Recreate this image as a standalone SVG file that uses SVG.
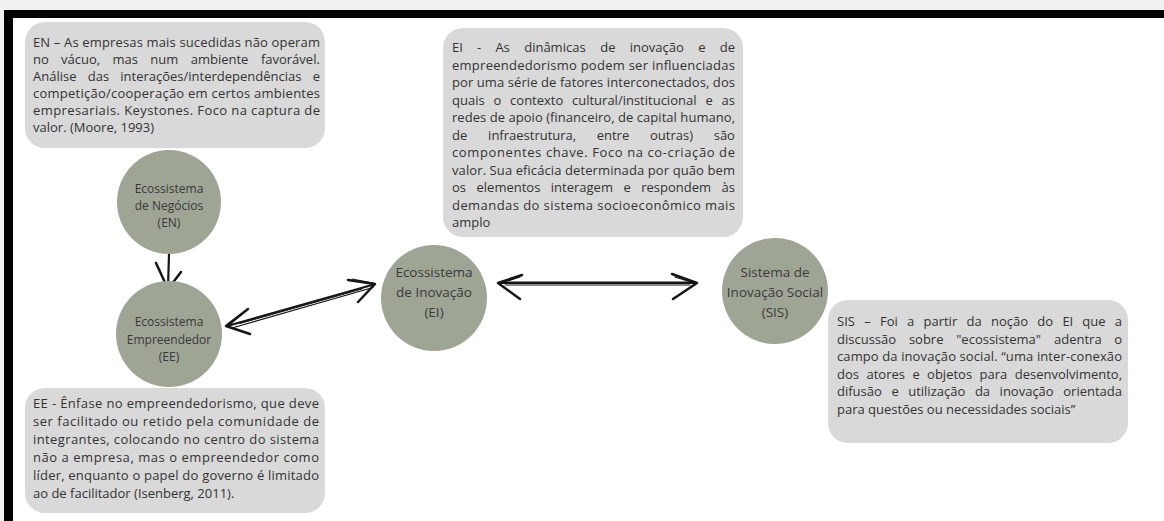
<svg xmlns="http://www.w3.org/2000/svg" width="1164" height="521" viewBox="0 0 1164 521">
<style>
.box{fill:#d9d9d9}
.node{fill:#9ea595}
.t{font-family:'Open Sans','Liberation Sans',sans-serif;font-size:13px;fill:#333}
.c{font-family:'Open Sans','Liberation Sans',sans-serif;font-size:12px;fill:#3a3a3a;text-anchor:middle}
.cb{font-size:13.5px}
.arr{stroke:#151515;fill:none;stroke-linecap:round;stroke-linejoin:round}
</style>
<rect x="0" y="0" width="1164" height="521" fill="#f1f1f1"/>
<rect x="13" y="18" width="1151" height="503" fill="#ffffff"/>
<rect x="4" y="10" width="1160" height="8" fill="#000"/>
<rect x="4" y="10" width="9" height="511" fill="#000"/>

<g id="connectors">
  <path class="arr" stroke-width="2.2" d="M169,254 L168,288"/>
  <path class="arr" stroke-width="2.5" d="M156,263 L168,289 L181,272"/>
  <path class="arr" stroke-width="2.2" d="M229,325.5 L372,285"/>
  <path class="arr" stroke-width="1.3" d="M232,328 L373,287.5"/>
  <path class="arr" stroke-width="1" d="M240,323.5 L362,289"/>
  <path class="arr" stroke-width="2.5" d="M248,309 L226,326 L250,334"/>
  <path class="arr" stroke-width="1.2" d="M246,311 L229,325"/>
  <path class="arr" stroke-width="2.5" d="M348,280 L375,284 L358,302"/>
  <path class="arr" stroke-width="1.2" d="M352,279 L373,283"/>
  <path class="arr" stroke-width="2.4" d="M500,282.8 L695,282.8"/>
  <path class="arr" stroke-width="1" d="M505,285 L690,285"/>
  <path class="arr" stroke-width="2.5" d="M522,275 L498,283 L520,299"/>
  <path class="arr" stroke-width="1.2" d="M520,277 L501,283"/>
  <path class="arr" stroke-width="2.5" d="M672,274 L697,283 L673,299"/>
  <path class="arr" stroke-width="1.2" d="M675,277 L694,283"/>
</g>

<g id="node-en">
  <circle class="node" cx="169" cy="202" r="52"/>
  <text class="c" x="169" y="193">Ecossistema</text>
  <text class="c" x="169" y="210">de Negócios</text>
  <text class="c" x="169" y="227">(EN)</text>
</g>
<g id="node-ee">
  <circle class="node" cx="169" cy="334" r="53"/>
  <text class="c" x="169" y="326">Ecossistema</text>
  <text class="c" x="169" y="344">Empreendedor</text>
  <text class="c" x="169" y="361">(EE)</text>
</g>
<g id="node-ei">
  <circle class="node" cx="434" cy="298" r="53"/>
  <text class="c cb" x="434" y="277">Ecossistema</text>
  <text class="c cb" x="434" y="297">de Inovação</text>
  <text class="c cb" x="434" y="317">(EI)</text>
</g>
<g id="node-sis">
  <circle class="node" cx="775" cy="291" r="53"/>
  <text class="c cb" x="775" y="277">Sistema de</text>
  <text class="c cb" x="775" y="297">Inovação Social</text>
  <text class="c cb" x="775" y="317">(SIS)</text>
</g>

<g id="note-en">
  <rect class="box" x="25" y="22" width="300" height="126" rx="20"/>
  <text class="t" x="33" y="47" textLength="287" lengthAdjust="spacing">EN – As empresas mais sucedidas não operam</text>
  <text class="t" y="64"><tspan x="33">no</tspan><tspan x="61.1">vácuo,</tspan><tspan x="112.4">mas</tspan><tspan x="150.3">num</tspan><tspan x="190.7">ambiente</tspan><tspan x="260.9">favorável.</tspan></text>
  <text class="t" y="81"><tspan x="33">Análise</tspan><tspan x="87.8">das</tspan><tspan x="120.3">interações/interdependências</tspan><tspan x="312.7">e</tspan></text>
  <text class="t" x="33" y="98" textLength="287" lengthAdjust="spacing">competição/cooperação em certos ambientes</text>
  <text class="t" x="33" y="115" textLength="287" lengthAdjust="spacing">empresariais. Keystones. Foco na captura de</text>
  <text class="t" x="33" y="132">valor. (Moore, 1993)</text>
</g>

<g id="note-ei">
  <rect class="box" x="443" y="28" width="300" height="209" rx="20"/>
  <text class="t" y="52"><tspan x="452">EI</tspan><tspan x="477">-</tspan><tspan x="495.4">As</tspan><tspan x="524.2">dinâmicas</tspan><tspan x="600.2">de</tspan><tspan x="629.7">inovação</tspan><tspan x="698.2">e</tspan><tspan x="719.7">de</tspan></text>
  <text class="t" x="452" y="69.5" textLength="283" lengthAdjust="spacing">empreendedorismo podem ser influenciadas</text>
  <text class="t" x="452" y="87" textLength="283" lengthAdjust="spacing">por uma série de fatores interconectados, dos</text>
  <text class="t" y="104.5"><tspan x="452">quais</tspan><tspan x="493.5">o</tspan><tspan x="510.1">contexto</tspan><tspan x="572">cultural/institucional</tspan><tspan x="705.5">e</tspan><tspan x="721.5">as</tspan></text>
  <text class="t" x="452" y="122" textLength="283" lengthAdjust="spacing">redes de apoio (financeiro, de capital humano,</text>
  <text class="t" y="139.5"><tspan x="452">de</tspan><tspan x="488.1">infraestrutura,</tspan><tspan x="596.7">entre</tspan><tspan x="650">outras)</tspan><tspan x="713.7">são</tspan></text>
  <text class="t" x="452" y="157" textLength="283" lengthAdjust="spacing">componentes chave. Foco na co-criação de</text>
  <text class="t" x="452" y="174.5" textLength="283" lengthAdjust="spacing">valor. Sua eficácia determinada por quão bem</text>
  <text class="t" y="192"><tspan x="452">os</tspan><tspan x="476.5">elementos</tspan><tspan x="550.8">interagem</tspan><tspan x="623.5">e</tspan><tspan x="641.2">respondem</tspan><tspan x="721.5">às</tspan></text>
  <text class="t" x="452" y="209.5" textLength="283" lengthAdjust="spacing">demandas do sistema socioeconômico mais</text>
  <text class="t" x="452" y="227">amplo</text>
</g>

<g id="note-sis">
  <rect class="box" x="828" y="300" width="300" height="143" rx="20"/>
  <text class="t" y="326"><tspan x="837">SIS</tspan><tspan x="864.2">–</tspan><tspan x="880">Foi</tspan><tspan x="907">a</tspan><tspan x="923.5">partir</tspan><tspan x="966.5">da</tspan><tspan x="991">noção</tspan><tspan x="1037.3">do</tspan><tspan x="1062.4">EI</tspan><tspan x="1082.3">que</tspan><tspan x="1114.8">a</tspan></text>
  <text class="t" y="343.6"><tspan x="837">discussão</tspan><tspan x="908.9">sobre</tspan><tspan x="956.2">"ecossistema"</tspan><tspan x="1054">adentra</tspan><tspan x="1114.2">o</tspan></text>
  <text class="t" x="837" y="361.2" textLength="285" lengthAdjust="spacing">campo da inovação social. “uma inter-conexão</text>
  <text class="t" y="378.8"><tspan x="837">dos</tspan><tspan x="866.5">atores</tspan><tspan x="912.4">e</tspan><tspan x="927.1">objetos</tspan><tspan x="979.6">para</tspan><tspan x="1014.8">desenvolvimento,</tspan></text>
  <text class="t" y="396.4"><tspan x="837">difusão</tspan><tspan x="891.4">e</tspan><tspan x="908.2">utilização</tspan><tspan x="974.9">da</tspan><tspan x="999.6">inovação</tspan><tspan x="1063.3">orientada</tspan></text>
  <text class="t" x="837" y="414">para questões ou necessidades sociais”</text>
</g>

<g id="note-ee">
  <rect class="box" x="25" y="388" width="300" height="125" rx="20"/>
  <text class="t" x="33" y="408" textLength="286" lengthAdjust="spacing">EE - Ênfase no empreendedorismo, que deve</text>
  <text class="t" x="33" y="426" textLength="286" lengthAdjust="spacing">ser facilitado ou retido pela comunidade de</text>
  <text class="t" x="33" y="444" textLength="286" lengthAdjust="spacing">integrantes, colocando no centro do sistema</text>
  <text class="t" x="33" y="462" textLength="286" lengthAdjust="spacing">não a empresa, mas o empreendedor como</text>
  <text class="t" x="33" y="480" textLength="286" lengthAdjust="spacing">líder, enquanto o papel do governo é limitado</text>
  <text class="t" x="33" y="498">ao de facilitador (Isenberg, 2011).</text>
</g>
</svg>
